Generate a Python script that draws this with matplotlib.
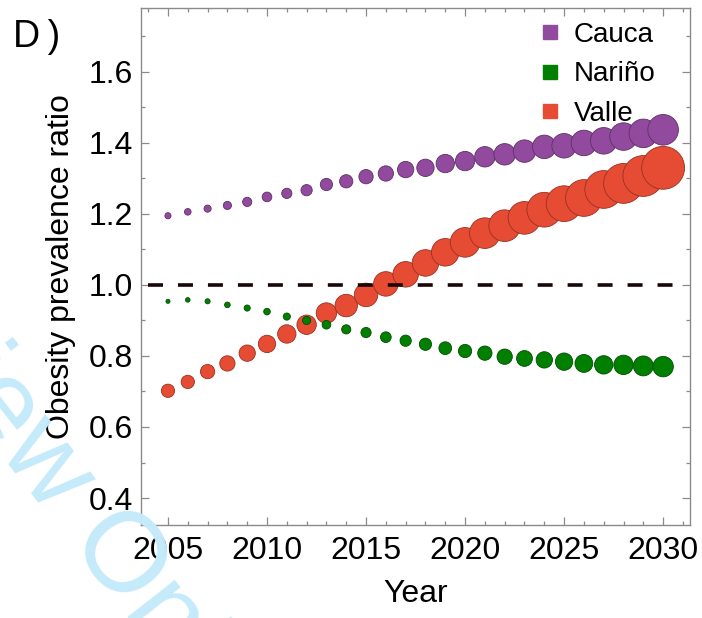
import numpy as np
import matplotlib
matplotlib.use('Agg')
import matplotlib.pyplot as plt
from matplotlib.ticker import MultipleLocator
from matplotlib.lines import Line2D

plt.rcParams['font.family'] = ['Liberation Sans', 'DejaVu Sans']

# Datos
years = np.arange(2005, 2031)

cauca = [1.195, 1.206, 1.215, 1.224, 1.234, 1.248, 1.258, 1.267, 1.283, 1.292,
         1.305, 1.314, 1.325, 1.330, 1.342, 1.349, 1.361, 1.368, 1.377, 1.389,
         1.392, 1.400, 1.406, 1.418, 1.427, 1.437]
narino = [0.954, 0.958, 0.954, 0.944, 0.935, 0.925, 0.911, 0.900, 0.888, 0.875,
          0.866, 0.853, 0.843, 0.833, 0.822, 0.814, 0.808, 0.798, 0.793, 0.789,
          0.784, 0.779, 0.775, 0.775, 0.772, 0.770]
valle = [0.702, 0.727, 0.756, 0.779, 0.808, 0.834, 0.862, 0.888, 0.921, 0.942,
         0.972, 1.003, 1.030, 1.062, 1.092, 1.120, 1.146, 1.167, 1.189, 1.212,
         1.229, 1.245, 1.269, 1.286, 1.307, 1.330]

# tamano de burbuja (valor relativo)
cauca_z = [0.36, 0.42, 0.49, 0.64, 0.81, 0.90, 1.00, 1.21, 1.44, 1.69, 1.96, 2.25, 2.56,
           2.89, 3.24, 3.61, 4.00, 4.41, 4.84, 5.29, 5.76, 6.25, 6.76, 7.29, 7.84, 9.00]
narino_z = [0.16, 0.20, 0.25, 0.30, 0.36, 0.42, 0.49, 0.64, 0.72, 0.81, 1.00, 1.10, 1.21,
            1.44, 1.56, 1.69, 1.96, 2.25, 2.40, 2.56, 2.89, 3.06, 3.24, 3.61, 3.80, 4.00]
valle_z = [1.69, 1.69, 1.96, 2.25, 2.56, 2.89, 3.24, 3.61, 4.00, 4.84, 5.29, 5.76, 6.25,
           6.76, 7.29, 8.41, 9.00, 9.61, 10.24, 11.56, 12.25, 12.96, 13.69, 15.21, 16.00, 17.64]

labels = ['Cauca', 'Nariño', 'Valle']
colors = ['#914a9e', '#007f00', '#e64c33']
edges = ['#5e2f66', '#004d00', '#9a3020']

fig = plt.figure(figsize=(7.02, 6.18), dpi=100)

# marca de agua
fig.text(0.054, 0.264, 'Review Only', fontsize=82, color='#c5eafa',
         rotation=-52, ha='center', va='center', zorder=0)

ax = fig.add_axes([0.2009, 0.1505, 0.7821, 0.8365])

scale = 54
ax.scatter(years, valle, s=np.array(valle_z) * scale, color=colors[2],
           edgecolors=edges[2], linewidths=0.6, zorder=2)
ax.scatter(years, narino, s=np.array(narino_z) * scale, color=colors[1],
           edgecolors=edges[1], linewidths=0.6, zorder=3)
ax.scatter(years, cauca, s=np.array(cauca_z) * scale, color=colors[0],
           edgecolors=edges[0], linewidths=0.6, zorder=4)

# linea de referencia
ax.hlines(1.0, 2004, 2031, colors='#1a0606', linewidth=2.6,
          linestyles=(0, (4.15, 4.15)), zorder=5)

ax.set_xlim(2003.64, 2031.36)
ax.set_ylim(0.324, 1.78)
ax.xaxis.set_major_locator(MultipleLocator(5))
ax.xaxis.set_minor_locator(MultipleLocator(1))
ax.yaxis.set_major_locator(MultipleLocator(0.2))
ax.yaxis.set_minor_locator(MultipleLocator(0.1))
ax.yaxis.set_major_formatter(plt.FormatStrFormatter('%.1f'))

for sp in ax.spines.values():
    sp.set_color('#8a8a8a')
    sp.set_linewidth(1.0)
ax.tick_params(which='both', direction='in', top=True, right=True, color='#8a8a8a',
               labelsize=23, width=0.9)
ax.tick_params(which='major', length=5.5, pad=6)
ax.tick_params(which='minor', length=3)
ax.tick_params(axis='x', pad=8)

ax.set_xlabel('Year', fontsize=23, labelpad=9)
ax.set_ylabel('Obesity prevalence ratio', fontsize=23, labelpad=9)

handles = [Line2D([], [], marker='s', linestyle='none', markersize=9.5,
                  markerfacecolor=c, markeredgecolor=c) for c in colors]
ax.legend(handles, labels, loc='upper left', bbox_to_anchor=(0.7195, 0.973),
          frameon=False, fontsize=20, handletextpad=0.35, labelspacing=0.48,
          handlelength=1.0, borderaxespad=0, borderpad=0)

fig.text(0.018, 0.924, 'D\u2009)', fontsize=27)

fig.savefig('out.png', dpi=100)
